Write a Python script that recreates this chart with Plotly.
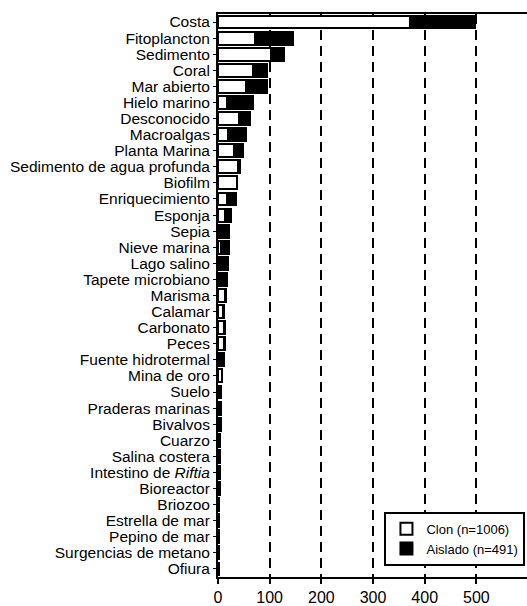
import plotly.graph_objects as go

# Habitat categories (top to bottom)
categorias = [
    "Costa", "Fitoplancton", "Sedimento", "Coral", "Mar abierto", "Hielo marino",
    "Desconocido", "Macroalgas", "Planta Marina", "Sedimento de agua profunda",
    "Biofilm", "Enriquecimiento", "Esponja", "Sepia", "Nieve marina", "Lago salino",
    "Tapete microbiano", "Marisma", "Calamar", "Carbonato", "Peces",
    "Fuente hidrotermal", "Mina de oro", "Suelo", "Praderas marinas", "Bivalvos",
    "Cuarzo", "Salina costera", "Intestino de <i>Riftia</i>", "Bioreactor",
    "Briozoo", "Estrella de mar", "Pepino de mar", "Surgencias de metano", "Ofiura",
]

# Clone sequences per habitat
clon = [
    372, 72, 103, 68, 55, 17,
    40, 19, 31, 38,
    36, 18, 14, 2, 6, 2,
    2, 14, 10, 12, 11,
    2, 7, 0, 0, 0,
    1, 0, 0, 0,
    0, 0, 0, 0, 0,
]

# Isolated strains per habitat
aislado = [
    125, 74, 24, 27, 40, 51,
    22, 35, 18, 4,
    1, 16, 12, 19, 15, 18,
    15, 1, 2, 2, 3,
    9, 1, 5, 5, 5,
    3, 3, 3, 3,
    2, 1, 1, 1, 1,
]

xticks = [0, 100, 200, 300, 400, 500]

fig = go.Figure()
fig.add_trace(go.Bar(
    y=categorias, x=clon, orientation="h", name="Clon (n=1006)",
    marker=dict(color="white", line=dict(color="black", width=2)),
))
fig.add_trace(go.Bar(
    y=categorias, x=aislado, orientation="h", name="Aislado (n=491)",
    marker=dict(color="black", line=dict(color="black", width=2)),
))

fig.update_layout(
    barmode="stack",
    bargap=0.2,
    width=527, height=606,
    margin=dict(l=218, r=0, t=14, b=27),
    paper_bgcolor="white",
    plot_bgcolor="white",
    font=dict(family="Liberation Sans, Arial, sans-serif", color="black"),
    legend=dict(
        x=0.995, y=0.02, xanchor="right", yanchor="bottom",
        bordercolor="black", borderwidth=2, bgcolor="white",
        font=dict(size=13), traceorder="normal",
        itemwidth=30, tracegroupgap=2,
    ),
    xaxis=dict(
        range=[0, 598], tickvals=xticks, ticktext=[str(v) for v in xticks],
        showline=True, linecolor="black", linewidth=2, mirror=True,
        ticks="outside", ticklen=5, tickwidth=2, tickcolor="black",
        tickfont=dict(size=16),
        showgrid=True, gridcolor="black", gridwidth=2, griddash="10px,6px",
        zeroline=False, fixedrange=True,
    ),
    yaxis=dict(
        categoryorder="array", categoryarray=categorias,
        tickmode="array", tickvals=categorias, ticktext=categorias,
        range=[len(categorias) - 0.5, -0.5],
        showline=True, linecolor="black", linewidth=2,
        ticks="outside", ticklen=3, tickwidth=1, tickcolor="black",
        tickfont=dict(size=15.5), ticklabelstandoff=0,
        showgrid=False, zeroline=False, automargin=False, fixedrange=True,
    ),
)

fig.write_html("out.html")
